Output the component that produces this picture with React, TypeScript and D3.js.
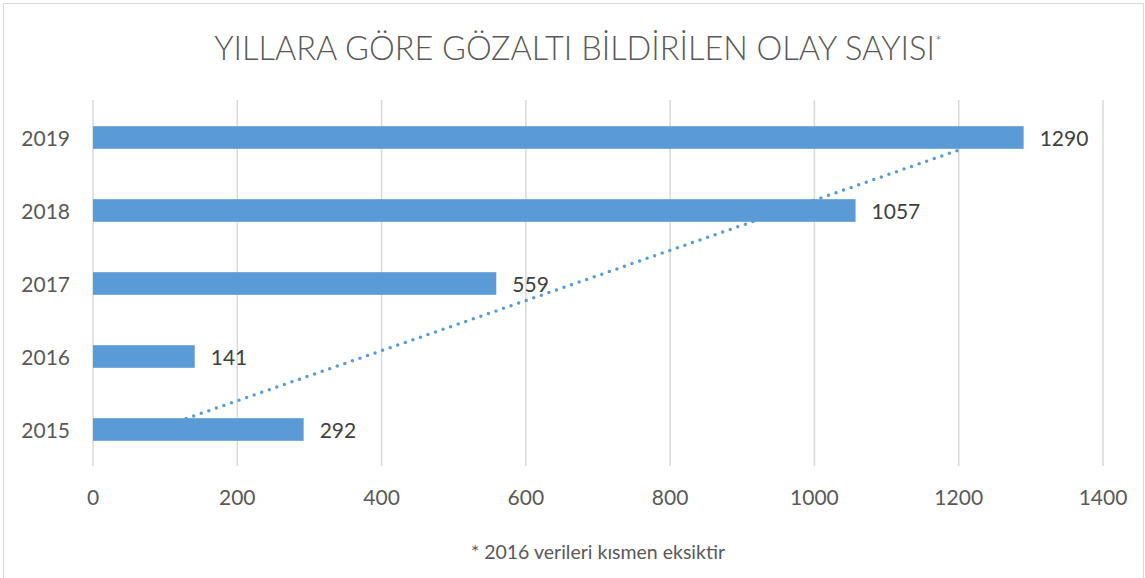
import React from "react";
import * as d3 from "d3";

const years = ["2015", "2016", "2017", "2018", "2019"];
const counts = [292, 141, 559, 1057, 1290];
const xTicks = [0, 200, 400, 600, 800, 1000, 1200, 1400];

const W = 1145;
const H = 578;
const margin = { top: 100, right: 42, bottom: 112, left: 93 };
const BLUE = "#5B9BD5";
const FONT = "Lato, 'Open Sans', sans-serif";

export default function App() {
  const x = d3
    .scaleLinear()
    .domain([0, 1400])
    .range([margin.left, W - margin.right]);

  const y = d3
    .scaleBand()
    .domain([...years].reverse())
    .range([margin.top + 1, H - margin.bottom])
    .paddingInner(0.69)
    .paddingOuter(0.345);

  const center = (yr) => y(yr) + y.bandwidth() / 2;

  // linear trendline (least squares over category index)
  const idx = counts.map((_, i) => i + 1);
  const mx = d3.mean(idx);
  const my = d3.mean(counts);
  const slope =
    d3.sum(idx, (v, i) => (v - mx) * (counts[i] - my)) /
    d3.sum(idx, (v) => (v - mx) ** 2);
  const intercept = my - slope * mx;
  const yIdx = d3
    .scaleLinear()
    .domain([1, years.length])
    .range([center(years[0]), center(years[years.length - 1])]);
  const trim = 0.15;
  const trendPts = [1 + trim, years.length - trim].map((t) => [
    x(intercept + slope * t),
    yIdx(t),
  ]);
  const trendLine = d3.line()(trendPts);

  return (
    <svg
      width={W}
      height={H}
      style={{ position: "absolute", left: 0, top: 0, background: "#fff" }}
      fontFamily={FONT}
    >
      <rect x={3.5} y={3.5} width={W - 5} height={H} fill="#fff" stroke="#D9D9D9" strokeWidth={1} />

      <text x={578} y={60} textAnchor="middle" fontSize={32.5} fontWeight={300} fill="#595959">
        YILLARA GÖRE GÖZALTI BİLDİRİLEN OLAY SAYISI
        <tspan fontSize={16} dy={-13}>*</tspan>
      </text>

      {/* gridlines */}
      {xTicks.map((t) => (
        <line
          key={t}
          x1={x(t)}
          x2={x(t)}
          y1={margin.top}
          y2={H - margin.bottom}
          stroke="#D9D9D9"
          strokeWidth={1.5}
        />
      ))}

      {/* bars */}
      {years.map((yr, i) => (
        <rect
          key={yr}
          x={x(0)}
          y={y(yr)}
          width={x(counts[i]) - x(0)}
          height={y.bandwidth()}
          fill={BLUE}
        />
      ))}

      {/* trendline */}
      <path
        d={trendLine}
        fill="none"
        stroke={BLUE}
        strokeWidth={3.5}
        strokeLinecap="round"
        strokeDasharray="0 8"
      />

      {/* value labels */}
      {years.map((yr, i) => (
        <text
          key={yr}
          x={x(counts[i]) + 16}
          y={center(yr) + 8}
          fontSize={21}
          fill="#404040"
        >
          {counts[i]}
        </text>
      ))}

      {/* category labels */}
      {years.map((yr) => (
        <text key={yr} x={70} y={center(yr) + 8} textAnchor="end" fontSize={21} fill="#595959">
          {yr}
        </text>
      ))}

      {/* x tick labels */}
      {xTicks.map((t) => (
        <text key={t} x={x(t)} y={505} textAnchor="middle" fontSize={21} fill="#595959">
          {t}
        </text>
      ))}

      <text x={598} y={559} textAnchor="middle" fontSize={19.5} fill="#595959">
        * 2016 verileri kısmen eksiktir
      </text>
    </svg>
  );
}
